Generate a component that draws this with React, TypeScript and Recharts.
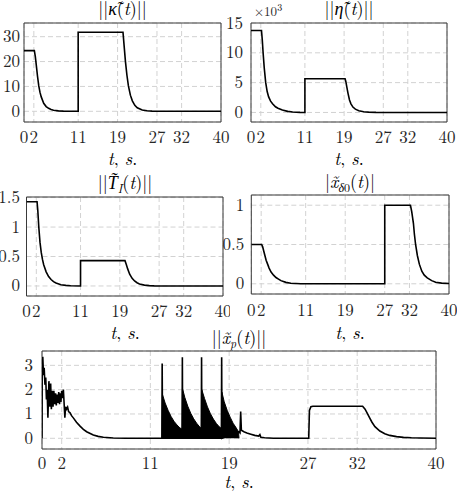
import React from 'react';
import { ComposedChart, Line, Area, XAxis, YAxis, CartesianGrid, ReferenceArea } from 'recharts';

const xTicks = [0, 2, 11, 19, 27, 32, 40];

// ||kappa(t)||
const kappaSeries: number[][] = [
  [0, 24.4], [2.1, 24.4], [2.3, 22], [2.5, 18.5], [2.75, 14], [3, 10.2], [3.25, 7.6], [3.5, 5.8],
  [4, 3.2], [4.5, 1.9], [5, 1.2], [5.5, 0.75], [6, 0.45], [7, 0.18], [8, 0.07], [9, 0.03], [11, 0],
  [11, 31.8], [20.1, 31.8], [20.3, 27], [20.6, 20], [20.9, 14.5], [21.2, 10.2], [21.6, 6.5], [22, 4.2],
  [22.5, 2.4], [23, 1.4], [24, 0.5], [25, 0.2], [26, 0.07], [27, 0.02], [40, 0],
];
// ||eta(t)|| (x 10^3)
const etaSeries: number[][] = [
  [0, 13.75], [2.14, 13.75], [2.3, 12.2], [2.47, 10], [2.7, 7.5], [3, 5.0], [3.3, 3.5], [3.6, 2.6],
  [4, 1.9], [4.4, 1.45], [5, 0.95], [5.5, 0.7], [6.4, 0.4], [7.5, 0.18], [8.5, 0.08], [10, 0.02], [11, 0],
  [11, 5.65], [19.2, 5.65], [19.35, 5.2], [19.55, 4.3], [19.8, 3.2], [20.1, 2.1], [20.4, 1.45], [20.8, 0.9],
  [21.3, 0.55], [22, 0.3], [23, 0.13], [24, 0.05], [25.5, 0.01], [27, 0], [40, 0],
];
// ||T_I(t)||
const tiSeries: number[][] = [
  [0, 1.43], [2.15, 1.43], [2.3, 1.28], [2.5, 1.0], [2.75, 0.74], [3, 0.57], [3.25, 0.45], [3.5, 0.36],
  [4, 0.24], [4.5, 0.16], [5, 0.11], [5.5, 0.075], [6, 0.05], [7, 0.022], [8, 0.01], [9, 0.004], [11, 0],
  [11, 0.43], [20.05, 0.43], [20.3, 0.37], [20.6, 0.29], [21, 0.2], [21.5, 0.13], [22, 0.085], [22.5, 0.055],
  [23, 0.035], [24, 0.015], [25, 0.006], [26, 0.002], [40, 0],
];
// |x_delta0(t)|
const xdSeries: number[][] = [
  [0, 0.5], [2.1, 0.5], [2.3, 0.47], [2.5, 0.42], [2.75, 0.36], [3, 0.3], [3.3, 0.25], [3.6, 0.2],
  [4, 0.15], [4.5, 0.11], [5, 0.08], [5.5, 0.06], [6, 0.04], [7, 0.018], [8, 0.006], [10, 0.001], [27, 0],
  [27, 1], [32.2, 1], [32.45, 0.92], [32.8, 0.77], [33, 0.63], [33.24, 0.5], [33.6, 0.36], [34, 0.25],
  [34.5, 0.16], [35, 0.11], [35.6, 0.075], [36.5, 0.04], [37.3, 0.02], [38.5, 0.008], [40, 0.003],
];
// ||x_p(t)||
const xpSeries: number[][] = [
  [0, 0], [0.02, 3.0], [0.08, 3.35], [0.15, 2.6], [0.22, 2.9], [0.3, 2.2], [0.38, 2.5], [0.45, 1.6],
  [0.52, 2.0], [0.6, 0.85], [0.7, 2.35], [0.8, 1.3], [0.88, 2.25], [0.95, 1.2], [1.05, 1.95], [1.12, 1.3],
  [1.2, 1.95], [1.3, 1.4], [1.38, 1.85], [1.45, 1.35], [1.55, 1.8], [1.62, 1.45], [1.7, 1.9], [1.78, 1.4],
  [1.85, 1.85], [1.92, 1.5], [2.0, 1.95], [2.08, 1.65], [2.17, 2.0], [2.25, 1.4], [2.32, 0.85], [2.4, 1.3],
  [2.5, 1.2], [2.6, 1.28], [2.7, 1.1], [2.85, 1.05], [3.0, 0.93], [3.2, 0.83], [3.5, 0.66], [3.86, 0.5],
  [4.2, 0.37], [4.53, 0.27], [5.21, 0.14], [5.7, 0.08], [6.23, 0.04], [7.24, 0.01], [8.5, 0], [12.17, 0],
  [12.2, 3.08], [12.24, 0], [14.22, 0], [14.25, 3.33], [14.28, 0], [16.17, 0], [16.2, 3.33], [16.23, 0],
  [18.21, 0], [18.24, 3.33], [18.27, 0], [19.98, 0.27], [20.1, 0.22], [20.17, 1.1], [20.24, 0.33],
  [20.5, 0.27], [20.8, 0.22], [21.2, 0.17], [21.6, 0.12], [22.0, 0.09], [22.12, 0.15], [22.22, 0.04],
  [22.6, 0.02], [23.5, 0.005], [24.5, 0], [27.08, 0], [27.15, 1.15], [27.3, 1.3], [27.5, 1.32],
  [32.55, 1.32], [32.8, 1.2], [33.0, 1.05], [33.25, 0.85], [33.5, 0.66], [33.8, 0.48], [34.3, 0.3],
  [34.8, 0.19], [35.3, 0.12], [36.0, 0.07], [36.7, 0.04], [37.5, 0.02], [38.4, 0.01], [40, 0.005],
];
// upper envelope of the fast oscillation of ||x_p(t)|| (filled black)
const xpEnvelope: number[][] = [
  [12.2, 0], [12.23, 1.8], [12.5, 1.45], [12.8, 1.15], [13.1, 0.9], [13.4, 0.7], [13.7, 0.55], [14.0, 0.43], [14.23, 0.37],
  [14.26, 2.05], [14.5, 1.68], [14.8, 1.32], [15.1, 1.03], [15.4, 0.8], [15.7, 0.62], [16.0, 0.47], [16.19, 0.4],
  [16.22, 2.0], [16.5, 1.64], [16.8, 1.29], [17.1, 1.01], [17.4, 0.79], [17.7, 0.61], [18.0, 0.47], [18.23, 0.4],
  [18.26, 1.9], [18.5, 1.5], [18.8, 1.15], [19.1, 0.87], [19.4, 0.62], [19.7, 0.44], [19.95, 0.27], [20.0, 0],
];

const toData = (s: number[][]) => s.map(([t, v]) => ({ t, v }));

const FONT = 'Latin Modern Roman';
const GREEK = 'Liberation Serif';
const TICK_COLOR = '#262626';
const TICK_SIZE = 17;

type PanelProps = {
  left: number; top: number; width: number; height: number;
  bx0: number; bx1: number; by0: number; by1: number;
  yDomain: [number, number]; yTicks: number[];
  series: number[][]; envelope?: number[][];
  yGap: number; xLabelOffset: number;
};

function Panel(p: PanelProps) {
  const margin = { top: p.by0 - p.top, right: p.left + p.width - p.bx1, bottom: 0, left: 0 };
  const yAxisWidth = p.bx0 - p.left;
  const xAxisHeight = p.top + p.height - p.by1;
  const plotBottom = p.by1 - p.top;
  const plotLeft = p.bx0 - p.left;
  const XTick = (props: any) => (
    <text x={props.x} y={plotBottom + p.xLabelOffset} textAnchor="middle" fontFamily={FONT} fontSize={TICK_SIZE} fill={TICK_COLOR}>
      {props.payload.value}
    </text>
  );
  const YTick = (props: any) => (
    <text x={plotLeft - p.yGap} y={props.y + 5.5} textAnchor="end" fontFamily={FONT} fontSize={TICK_SIZE} fill={TICK_COLOR}>
      {String(props.payload.value)}
    </text>
  );
  return (
    <div style={{ position: 'absolute', left: p.left, top: p.top }}>
      <ComposedChart width={p.width} height={p.height} margin={margin}>
        <CartesianGrid stroke="#d2d2d2" strokeDasharray="5 3" strokeWidth={1} />
        <XAxis type="number" dataKey="t" domain={[0, 40]} ticks={xTicks} interval={0} tick={XTick}
          tickLine={false} axisLine={false} height={xAxisHeight} allowDataOverflow />
        <YAxis type="number" domain={p.yDomain} ticks={p.yTicks} interval={0} tick={YTick}
          tickLine={false} axisLine={false} width={yAxisWidth} allowDataOverflow />
        {p.envelope && (
          <Area data={toData(p.envelope)} dataKey="v" type="linear" baseValue={0} stroke="#000" strokeWidth={1}
            fill="#000" fillOpacity={1} isAnimationActive={false} dot={false} activeDot={false} />
        )}
        <Line data={toData(p.series)} dataKey="v" type="linear" stroke="#000" strokeWidth={1.6}
          dot={false} activeDot={false} isAnimationActive={false} />
        <ReferenceArea x1={0} x2={40} y1={p.yDomain[0]} y2={p.yDomain[1]} fill="none" stroke="#3a3a3a" strokeWidth={1} ifOverflow="visible" />
      </ComposedChart>
    </div>
  );
}

const Title = ({ x, y, children }: any) => (
  <text x={x} y={y} textAnchor="middle" fontFamily={FONT} fontSize={18} fill="#000">{children}</text>
);
const TLabel = ({ x, y }: any) => (
  <text x={x} y={y} textAnchor="middle" fontFamily={FONT} fontSize={18} fill="#000">
    <tspan fontStyle="italic">t</tspan>, <tspan fontStyle="italic">s</tspan>.
  </text>
);

export default function App() {
  return (
    <div style={{ position: 'absolute', left: 0, top: 0, width: 457, height: 495, background: '#fff' }}>
      <Panel left={0} top={0} width={230} height={170} bx0={24} bx1={221} by0={23} by1={122}
        yDomain={[-4.3, 35.5]} yTicks={[0, 10, 20, 30]} series={kappaSeries} yGap={4} xLabelOffset={21} />
      <Panel left={215} top={0} width={242} height={170} bx0={251} bx1={447} by0={23} by1={122}
        yDomain={[-1.6, 15]} yTicks={[0, 5, 10, 15]} series={etaSeries} yGap={8} xLabelOffset={21} />
      <Panel left={0} top={170} width={230} height={160} bx0={26.5} bx1={223} by0={197} by1={296}
        yDomain={[-0.17, 1.51]} yTicks={[0, 0.5, 1, 1.5]} series={tiSeries} yGap={6.5} xLabelOffset={21} />
      <Panel left={215} top={170} width={242} height={160} bx0={251.3} bx1={449} by0={195} by1={294}
        yDomain={[-0.13, 1.13]} yTicks={[0, 0.5, 1]} series={xdSeries} yGap={7} xLabelOffset={22} />
      <Panel left={0} top={330} width={457} height={165} bx0={42} bx1={436} by0={351} by1={449}
        yDomain={[-0.44, 3.59]} yTicks={[0, 1, 2, 3]} series={xpSeries} envelope={xpEnvelope} yGap={9} xLabelOffset={20} />
      <svg width={457} height={495} style={{ position: 'absolute', left: 0, top: 0, pointerEvents: 'none' }}>
        <Title x={122.5} y={15}>||<tspan fontFamily={GREEK} fontStyle="italic">{'\u03BA\u0303'}</tspan>(<tspan fontStyle="italic">t</tspan>)||</Title>
        <Title x={349} y={15}>||<tspan fontFamily={GREEK} fontStyle="italic">{'\u03B7\u0303'}</tspan>(<tspan fontStyle="italic">t</tspan>)||</Title>
        <Title x={125} y={189}>||<tspan fontFamily={GREEK} fontStyle="italic">{'T\u0303'}</tspan><tspan fontStyle="italic" fontSize={12} dy={4}>I</tspan><tspan dy={-4}>(</tspan><tspan fontStyle="italic">t</tspan>)||</Title>
        <Title x={350} y={188}>|<tspan fontStyle="italic">{'x\u0303'}</tspan><tspan fontFamily={GREEK} fontStyle="italic" fontSize={12} dy={4}>{'\u03B4'}</tspan><tspan fontSize={12}>0</tspan><tspan dy={-4}>(</tspan><tspan fontStyle="italic">t</tspan>)|</Title>
        <Title x={239} y={344}>||<tspan fontStyle="italic">{'x\u0303'}</tspan><tspan fontStyle="italic" fontSize={12} dy={4}>p</tspan><tspan dy={-4}>(</tspan><tspan fontStyle="italic">t</tspan>)||</Title>
        <text x={254} y={16} fontFamily={FONT} fontSize={13} fill={TICK_COLOR}>{'\u00D710'}<tspan fontSize={10} dy={-5}>3</tspan></text>
        <TLabel x={122.5} y={165} />
        <TLabel x={349} y={165} />
        <TLabel x={125} y={339} />
        <TLabel x={350} y={339} />
        <TLabel x={239} y={488} />
      </svg>
    </div>
  );
}
